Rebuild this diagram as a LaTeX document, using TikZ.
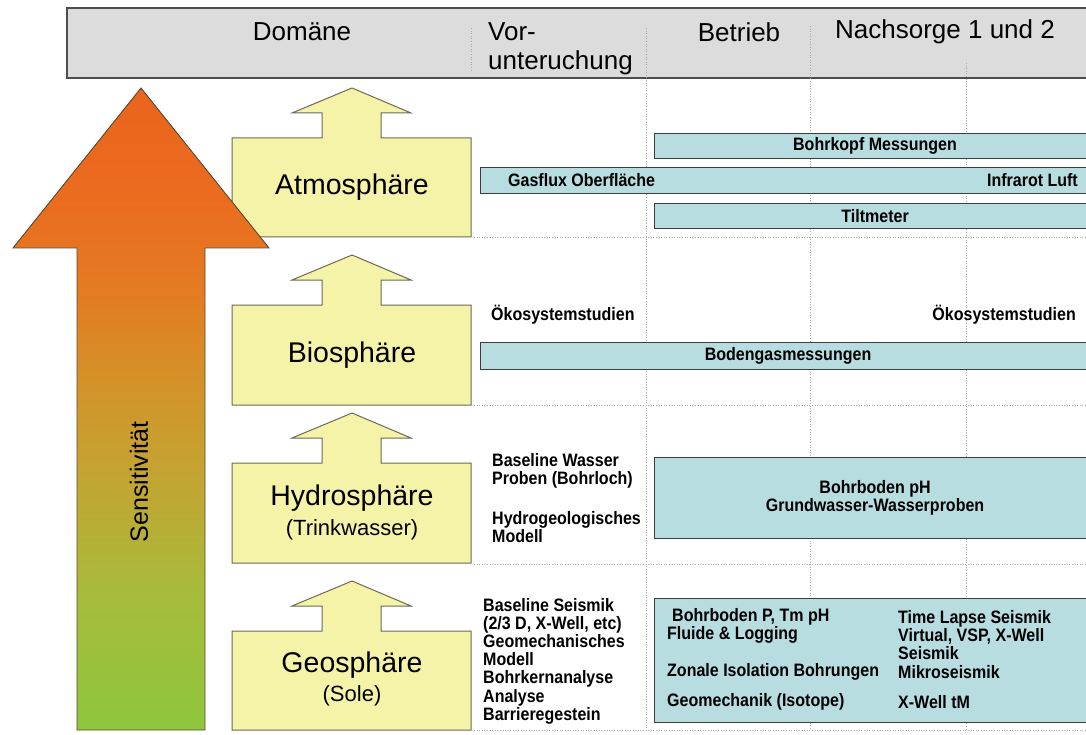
\documentclass[tikz,border=0pt]{standalone}
\usepackage{fontspec}
\setmainfont{Liberation Sans}
\newfontfamily\barfont{Liberation Sans}[FakeStretch=0.89]

\definecolor{hdrfill}{HTML}{DCDCDC}
\definecolor{hdrline}{HTML}{4D4D4D}
\definecolor{gridc}{HTML}{A8A8A8}
\definecolor{barfill}{HTML}{B8DDE0}
\definecolor{barline}{HTML}{3C3C3C}
\definecolor{sphfill}{HTML}{F5F3A8}
\definecolor{sphline}{HTML}{6A6A55}
\definecolor{arrline}{HTML}{5A4B2E}
\definecolor{sgreen}{HTML}{8EC63E}
\definecolor{sgreenb}{HTML}{A6BC3A}
\definecolor{smid}{HTML}{C2A533}
\definecolor{sgold}{HTML}{D49229}
\definecolor{sorangeb}{HTML}{E27D23}
\definecolor{sorangea}{HTML}{EB6C1F}
\definecolor{sorange}{HTML}{EA641E}

\pgfdeclareverticalshading{sensitivity}{100bp}{%
  color(0bp)=(sgreen); color(25bp)=(sgreen); color(35.1bp)=(sgreenb);
  color(44.5bp)=(smid); color(52.3bp)=(sgold); color(58.5bp)=(sorangeb);
  color(66.3bp)=(sorangea); color(75bp)=(sorange); color(100bp)=(sorange)}

\begin{document}
\begin{tikzpicture}[x=1pt,y=-1pt,
  hdrtext/.style={inner sep=0pt, font=\fontsize{26}{28}\selectfont},
  sphmain/.style={inner sep=0pt, font=\fontsize{28.5}{30}\selectfont},
  sphsub/.style={inner sep=0pt, font=\fontsize{22}{24}\selectfont},
  bold/.style={inner sep=0pt, font=\barfont\bfseries\fontsize{18}{18.2}\selectfont},
  lefttext/.style={bold, anchor=west, align=left},
  bar/.style={draw=barline, fill=barfill, line width=1.1pt, inner sep=0pt,
              anchor=north west, bold},
  sphere/.style={draw=sphline, fill=sphfill, line width=1pt, line join=miter},
  gridline/.style={draw=gridc, line width=0.9pt, dash pattern=on 1pt off 1.6pt},
]
\useasboundingbox (0,0) rectangle (1086,735);
\clip (0,0) rectangle (1086,735);

% header band
\draw[fill=hdrfill, draw=hdrline, line width=1.2pt] (67,8) rectangle (1100,78);

% grid of dotted lines
\draw[gridline] (471,28) -- (471,72);
\draw[gridline] (646,28) -- (646,730);
\draw[gridline] (810,26) -- (810,730);
\draw[gridline] (966,63) -- (966,730);
\foreach \yy in {237,405,564,730}
  \draw[gridline] (474,\yy) -- (1086,\yy);

% header labels
\node[hdrtext] (hdom) at (302,32) {Domäne};
\node[hdrtext, anchor=west] (hvor) at (488,32) {Vor-};
\node[hdrtext, anchor=west] (hunt) at (488,63) {unteruchung};
\node[hdrtext] (hbet) at (739,32) {Betrieb};
\node[hdrtext] (hnach) at (945,32) {Nachsorge 1 und 2};

% domain boxes with their upward arrows
\foreach \tip/\bot in {88/237, 255/405, 413/563, 581/730}
  \draw[sphere] (232,\tip+50) -- (322,\tip+50) -- (322,\tip+25) -- (292,\tip+25)
    -- (352,\tip) -- (411,\tip+25) -- (381,\tip+25) -- (381,\tip+50)
    -- (471,\tip+50) -- (471,\bot) -- (232,\bot) -- cycle;

\node[sphmain] (atm) at (352,187) {Atmosphäre};
\node[sphmain] (bio) at (352,355) {Biosphäre};
\node[sphmain] (hyd) at (352,498) {Hydrosphäre};
\node[sphsub] (hydsub) at (352,530) {(Trinkwasser)};
\node[sphmain] (geo) at (352,665) {Geosphäre};
\node[sphsub] (geosub) at (352,696) {(Sole)};

% sensitivity arrow, lying over the first box
\shade[shading=sensitivity, draw=arrline, line width=0.9pt]
  (141,88) -- (269,248) -- (205,248) -- (205,730) -- (77,730) -- (77,248)
  -- (13,248) -- cycle;
\node[rotate=90, inner sep=0pt, font=\fontsize{25}{27}\selectfont]
  (sens) at (139,482) {Sensitivität};

% Atmosphäre row
\node[bar, minimum width=441pt, minimum height=25pt] (bohrkopf) at (654,133)
  {Bohrkopf Messungen};
\node[bar, minimum width=615pt, minimum height=26pt] (gasflux) at (480,167) {};
\node[bold, anchor=west] (gastext) at (508,180) {Gasflux Oberfläche};
\node[bold, anchor=east] (infra) at (1078,180) {Infrarot Luft};
\node[bar, minimum width=441pt, minimum height=25pt] (tilt) at (654,203)
  {Tiltmeter};

% Biosphäre row
\node[lefttext] (oeko1) at (491,315) {Ökosystemstudien};
\node[bold, anchor=east] (oeko2) at (1076,315) {Ökosystemstudien};
\node[bar, minimum width=615pt, minimum height=27pt] (bodengas) at (480,342)
  {Bodengasmessungen};

% Hydrosphäre row
\node[lefttext] (wasser) at (492,471) {Baseline Wasser\\Proben (Bohrloch)};
\node[lefttext] (hydromod) at (492,527) {Hydrogeologisches\\Modell};
\node[bar, minimum width=441pt, minimum height=81pt, align=center]
  (grundw) at (654,457) {Bohrboden pH\\Grundwasser-Wasserproben};

% Geosphäre row
\node[lefttext] (geoleft) at (483,661)
  {Baseline Seismik\\(2/3 D, X-Well, etc)\\Geomechanisches\\Modell\\
   Bohrkernanalyse\\Analyse\\Barrieregestein};
\node[bar, minimum width=441pt, minimum height=124pt] (geobar) at (654,598) {};
\node[lefttext] (g1) at (672,617) {Bohrboden P, Tm pH};
\node[lefttext] (g2) at (667,635) {Fluide \& Logging};
\node[lefttext] (g3) at (667,672) {Zonale Isolation Bohrungen};
\node[lefttext] (g4) at (667,702) {Geomechanik (Isotope)};
\node[lefttext] (g5) at (898,635) {Time Lapse Seismik\\Virtual, VSP, X-Well\\Seismik};
\node[lefttext] (g6) at (898,672) {Mikroseismik};
\node[lefttext] (g7) at (898,702) {X-Well tM};
\end{tikzpicture}
\end{document}
